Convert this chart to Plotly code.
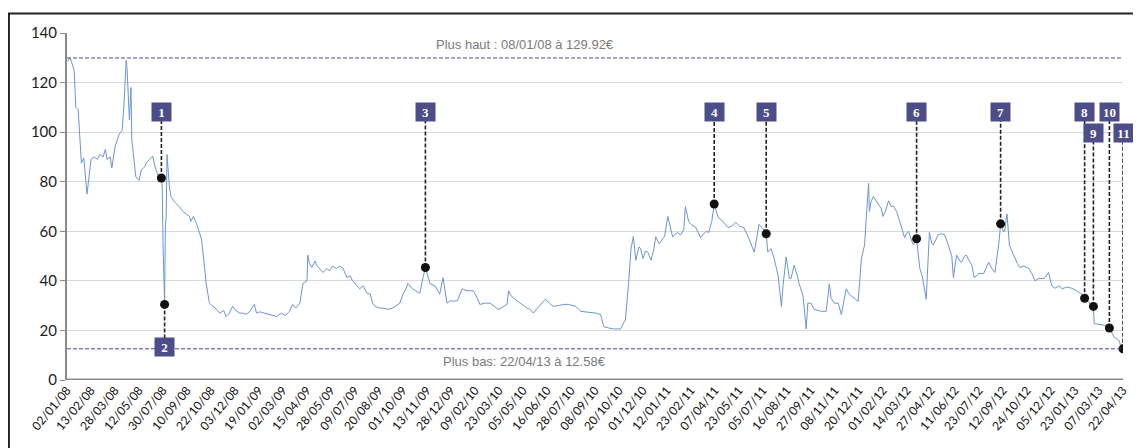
import plotly.graph_objects as go

# ---------------- data ----------------
# trading-session index (0 = 02/01/08) and closing price (EUR)
sessions = [0, 4, 9, 11, 14, 18, 21, 25, 30, 34, 38, 41, 45, 48, 50, 54, 56, 60, 63, 65, 69, 71, 74, 75, 78, 80, 81, 84, 86, 90,
            93, 97, 99, 103, 107, 110, 115, 118, 119, 120, 122, 123, 124, 125, 128, 130, 134, 140, 145, 149, 153, 155, 158, 162, 165,
            168, 169, 172, 174, 178, 182, 187, 191, 196, 199, 203, 207, 211, 216, 219, 224, 228, 234, 237, 241, 247, 253, 262, 268,
            273, 278, 282, 286, 291, 295, 300, 301, 303, 306, 310, 312, 316, 320, 325, 328, 332, 337, 341, 345, 350, 354, 357, 362,
            366, 370, 375, 379, 382, 385, 391, 395, 401, 407, 412, 416, 420, 424, 426, 429, 431, 436, 441, 445, 448, 451, 454, 460,
            464, 466, 470, 473, 475, 479, 483, 488, 494, 500, 508, 513, 516, 523, 529, 535, 539, 545, 550, 552, 555, 560, 567, 570,
            575, 579, 583, 588, 593, 598, 603, 608, 614, 621, 627, 636, 642, 648, 654, 661, 667, 671, 677, 683, 692, 698, 702, 705,
            708, 711, 715, 717, 720, 723, 726, 730, 733, 736, 740, 742, 747, 751, 755, 757, 763, 767, 771, 773, 777, 780, 786, 792,
            796, 799, 802, 806, 809, 814, 820, 826, 831, 836, 841, 846, 852, 859, 862, 865, 870, 874, 876, 880, 884, 889, 893, 895,
            899, 903, 905, 909, 913, 915, 920, 924, 926, 930, 934, 939, 943, 949, 953, 955, 959, 964, 968, 974, 977, 980, 984, 989,
            993, 997, 999, 1002, 1003, 1005, 1008, 1012, 1014, 1018, 1020, 1023, 1027, 1030, 1033, 1037, 1039, 1043, 1047, 1049,
            1052, 1056, 1058, 1062, 1066, 1069, 1074, 1078, 1081, 1083, 1087, 1089, 1093, 1097, 1101, 1103, 1106, 1108, 1112, 1116,
            1118, 1122, 1124, 1128, 1131, 1134, 1140, 1146, 1152, 1156, 1160, 1165, 1167, 1170, 1172, 1175, 1178, 1181, 1185, 1188,
            1191, 1196, 1202, 1206, 1210, 1215, 1222, 1227, 1231, 1235, 1240, 1244, 1250, 1256, 1262, 1268, 1272, 1278, 1283, 1284,
            1289, 1293, 1299, 1303, 1306, 1309, 1315, 1318, 1320]
prices = [128.5, 129.92, 125, 110, 109, 87.5, 89.6, 75, 89, 90, 89, 91, 90, 93, 89, 90, 85.5, 94, 97, 99, 100.8, 110, 129, 126, 105, 118, 97, 88, 82, 80.5,
          84.7, 86, 87.5, 89, 90.4, 86, 81.4, 81.5, 78, 55, 30.5, 62, 66, 91, 78, 74, 72, 70, 68, 67, 66, 64, 66, 63, 59.5,
          57, 54.5, 46, 39, 31, 30, 28.5, 27, 28, 25.6, 27, 29.7, 28, 27, 27, 26.5, 27.5, 30.5, 27, 27.5, 27, 26.5, 25.6, 27,
          26, 27.7, 30.5, 29, 31, 39, 40, 50.4, 47, 45.4, 48, 46.3, 45, 43.4, 45, 44, 46, 45, 46, 45, 41.3, 42, 40, 38,
          36.8, 38, 35, 34.7, 31, 29.7, 29, 29, 28.5, 29, 30, 31, 34.7, 37, 39, 38, 37, 36, 35, 41.3, 45.4, 42, 38.8, 38,
          36, 34.7, 41.3, 36, 31, 32, 31.8, 32, 36.8, 36, 36, 33, 30.5, 31, 31, 29.5, 28.5, 29.5, 30.5, 36, 34, 32.6, 31, 30,
          29, 28.5, 27, 29, 31, 32.6, 31, 29.7, 30, 30.5, 30.5, 29.7, 27.7, 27.5, 27, 27, 26.4, 21.5, 21, 20.6, 20.6, 24.4, 39, 53,
          58, 48.3, 53.7, 53, 49, 52, 51.6, 48.3, 52, 57.8, 55, 55.8, 58, 66, 60, 57.8, 59.5, 58.5, 60.7, 70, 64, 62.8, 61.5, 57.4,
          59, 60, 59.5, 64, 71, 65.6, 64, 61.5, 62, 63.6, 62, 61.5, 57.4, 51.6, 57, 62.8, 61, 59, 51.6, 53, 49, 42, 29.7, 38,
          49.6, 41, 41, 46.3, 42, 39, 34, 20.6, 31, 31, 28.5, 28, 27.7, 27.7, 38.8, 33, 31, 31, 26.4, 36.8, 35, 34, 33, 31.8,
          49, 54.5, 65, 79.3, 68, 72, 74, 72, 71, 69, 66, 68, 72.3, 70, 70.2, 68, 66, 61.5, 57.4, 59,
          60, 56, 54.5, 57, 45, 42, 32.6, 59.5, 55, 54.5, 57, 58.6, 59, 58.6, 55, 53.3, 50, 41.3, 50.4, 48,
          47.5, 50, 50.4, 48, 46.3, 41.3, 43, 43, 47.5, 45, 43.4, 55.8, 63, 60, 60, 67, 54.5, 52, 49, 47,
          45.4, 46, 45, 43, 40, 41, 41, 43.4, 38, 37, 38, 36.8, 37.5, 37, 36, 34.7, 33, 31, 29.7, 22.7,
          22.5, 22.3, 22, 21, 19, 17.3, 16, 13, 12.58]

tick_labels = ["02/01/08", "13/02/08", "28/03/08", "12/05/08", "30/07/08", "10/09/08", "22/10/08", "03/12/08", "19/01/09",
               "02/03/09", "15/04/09", "28/05/09", "09/07/09", "20/08/09", "01/10/09", "13/11/09", "28/12/09", "09/02/10",
               "23/03/10", "05/05/10", "16/06/10", "28/07/10", "08/09/10", "20/10/10", "01/12/10", "12/01/11", "23/02/11",
               "07/04/11", "23/05/11", "05/07/11", "16/08/11", "27/09/11", "08/11/11", "20/12/11", "01/02/12", "14/03/12",
               "27/04/12", "11/06/12", "23/07/12", "12/09/12", "24/10/12", "05/12/12", "23/01/13", "07/03/13", "22/04/13"]
sessions_per_tick = 30

event_ids = [1, 2, 3, 4, 5, 6, 7, 8, 9, 10, 11]
event_sessions = [118, 122, 448, 809, 874, 1062, 1167, 1272, 1283, 1303, 1320]
event_label_levels = [108.3, 13.2, 108.3, 108.3, 108.3, 108.3, 108.3, 108.3, 99.8, 108.3, 99.8]

high_value, high_text = 129.92, "Plus haut : 08/01/08 à 129.92€"
low_value, low_text = 12.58, "Plus bas: 22/04/13 à 12.58€"
caption_session = 572

# ---------------- figure ----------------
price_at = dict(zip(sessions, prices))
event_prices = [price_at[s] for s in event_sessions]
tick_vals = [i * sessions_per_tick for i in range(len(tick_labels))]

fig = go.Figure()

fig.add_trace(go.Scatter(x=sessions, y=prices, mode="lines",
                         line=dict(color="#6b95d4", width=1), hoverinfo="x+y", showlegend=False))

# dashed connectors
cx, cy = [], []
for s, p, ly in zip(event_sessions, event_prices, event_label_levels):
    cx += [s, s, None]
    cy += [p, ly, None]
fig.add_trace(go.Scatter(x=cx, y=cy, mode="lines",
                         line=dict(color="#222222", width=1.6, dash="4px,2px"),
                         hoverinfo="skip", showlegend=False))

fig.add_trace(go.Scatter(x=event_sessions, y=event_prices, mode="markers",
                         marker=dict(color="#111111", size=9), showlegend=False))

# high / low reference lines
for v in (high_value, low_value):
    fig.add_shape(type="line", xref="paper", x0=0, x1=1, yref="y", y0=v, y1=v,
                  line=dict(color="#4a4a8c", width=1, dash="4px,2px"))

fig.add_annotation(x=caption_session, y=high_value, text=high_text, showarrow=False, yshift=13,
                   font=dict(family="Liberation Sans", size=13, color="#7a7a7a"))
fig.add_annotation(x=caption_session, y=low_value, text=low_text, showarrow=False, yshift=-13,
                   font=dict(family="Liberation Sans", size=13, color="#7a7a7a"))

# event label boxes
for eid, s, ly in zip(event_ids, event_sessions, event_label_levels):
    fig.add_annotation(x=s, y=ly, text="<b>%d</b>" % eid, showarrow=False,
                       font=dict(family="Liberation Serif", size=13, color="white"),
                       bgcolor="#4d4d8a", borderpad=1, width=17, height=16)

# outer frame
fig.add_shape(type="rect", xref="paper", yref="paper", x0=-0.055, x1=1.2, y0=-0.5, y1=1.056,
              line=dict(color="#222222", width=2), fillcolor="rgba(0,0,0,0)", layer="below")

fig.update_layout(
    width=1133, height=440,
    margin=dict(l=59, r=11, t=25, b=68),
    paper_bgcolor="white", plot_bgcolor="white",
    xaxis=dict(range=[0, tick_vals[-1]], tickmode="array", tickvals=tick_vals, ticktext=tick_labels,
               tickangle=-50, showgrid=False, zeroline=False, showline=False, ticks="",
               tickfont=dict(family="Lato", size=12, color="#111111")),
    yaxis=dict(range=[0, 140], tickvals=[0, 20, 40, 60, 80, 100, 120, 140], showgrid=True,
               gridcolor="#d9d9d9", gridwidth=1, zeroline=False, showline=True, linecolor="#8a8a8a",
               linewidth=2, ticks="outside", ticklen=5, tickcolor="#8a8a8a",
               tickfont=dict(family="Lato", size=15, color="#222222")),
)
# bottom axis line
fig.add_shape(type="line", xref="paper", x0=0, x1=1, yref="y", y0=0, y1=0,
              line=dict(color="#8a8a8a", width=3))

fig.write_html("out.html")
